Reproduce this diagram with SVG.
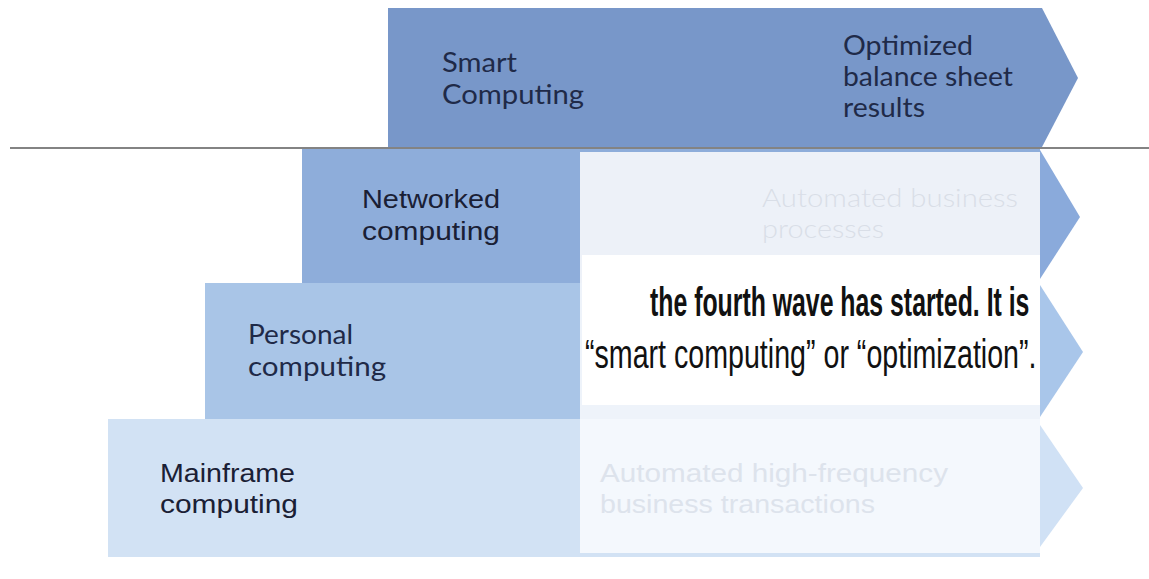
<svg xmlns="http://www.w3.org/2000/svg" width="1149" height="579" viewBox="0 0 1149 579">
<style>
.lbl{font-family:Lato,"Liberation Sans",sans-serif;font-size:26px;fill:#1f2a48}
.lbl2{font-family:"Liberation Sans",Arial,sans-serif;font-size:25px;fill:#1a2035}
.fade{font-family:Lato,"Liberation Sans",sans-serif;font-size:26px;fill:#d9dee7;font-weight:300}
.fade2{font-family:"Liberation Sans",Arial,sans-serif;font-size:25px;fill:#dde3ec}
.big{font-family:"Liberation Sans",Arial,sans-serif;font-size:41px;fill:#111}
</style>
<rect width="1149" height="579" fill="#ffffff"/>
<g id="smart-computing">
<rect x="388" y="8" width="654" height="139" fill="#7897c9"/>
<polygon points="1042,8 1078,78 1042,147" fill="#7897c9"/>
<text class="lbl" x="442" y="72" textLength="75" lengthAdjust="spacingAndGlyphs">Smart</text>
<text class="lbl" x="442" y="104" textLength="142" lengthAdjust="spacingAndGlyphs">Computing</text>
<text class="lbl" x="843" y="55" textLength="130" lengthAdjust="spacingAndGlyphs">Optimized</text>
<text class="lbl" x="843" y="86" textLength="170" lengthAdjust="spacingAndGlyphs">balance sheet</text>
<text class="lbl" x="843" y="117" textLength="82" lengthAdjust="spacingAndGlyphs">results</text>
</g>
<g id="networked-computing">
<rect x="302" y="149" width="738" height="134" fill="#8eadda"/>
<polygon points="1040,150 1080,217 1040,279" fill="#8aaadb"/>
<rect x="580" y="152" width="460" height="131" fill="#edf1f8"/>
<text class="lbl2" x="362" y="208" textLength="138" lengthAdjust="spacingAndGlyphs">Networked</text>
<text class="lbl2" x="362" y="240" textLength="138" lengthAdjust="spacingAndGlyphs">computing</text>
<text class="fade" x="762" y="207" textLength="256" lengthAdjust="spacingAndGlyphs">Automated business</text>
<text class="fade" x="762" y="238" textLength="122" lengthAdjust="spacingAndGlyphs">processes</text>
</g>
<g id="personal-computing">
<rect x="205" y="283" width="835" height="136" fill="#a9c5e7"/>
<polygon points="1040,285 1083,352 1040,417" fill="#a9c6ea"/>
<rect x="580" y="283" width="460" height="136" fill="#eef3fa"/>
<text class="lbl" x="248" y="344" textLength="105" lengthAdjust="spacingAndGlyphs">Personal</text>
<text class="lbl" x="248" y="376" textLength="138" lengthAdjust="spacingAndGlyphs">computing</text>
</g>
<g id="mainframe-computing">
<rect x="108" y="419" width="932" height="138" fill="#d2e2f4"/>
<polygon points="1040,425 1083,488 1040,547" fill="#d0e1f5"/>
<rect x="580" y="419" width="460" height="134" fill="#f4f8fd"/>
<text class="lbl2" x="160" y="482" textLength="135" lengthAdjust="spacingAndGlyphs">Mainframe</text>
<text class="lbl2" x="160" y="513" textLength="138" lengthAdjust="spacingAndGlyphs">computing</text>
<text class="fade2" x="600" y="482" textLength="348" lengthAdjust="spacingAndGlyphs">Automated high-frequency</text>
<text class="fade2" x="600" y="513" textLength="275" lengthAdjust="spacingAndGlyphs">business transactions</text>
</g>
<g id="fourth-wave-note">
<rect x="582" y="255" width="458" height="150" fill="#ffffff"/>
<text class="big" transform="translate(650,316) scale(0.606,1)" x="0" y="0" font-weight="bold">the fourth wave has started. It is</text>
<text class="big" transform="translate(585,368) scale(0.698,1)" x="0" y="0">“smart computing” or “optimization”.</text>
</g>
<g id="connectors">
<line x1="10" y1="148" x2="1149" y2="148" stroke="#5a5a5a" stroke-width="1.5"/>
</g>
</svg>
